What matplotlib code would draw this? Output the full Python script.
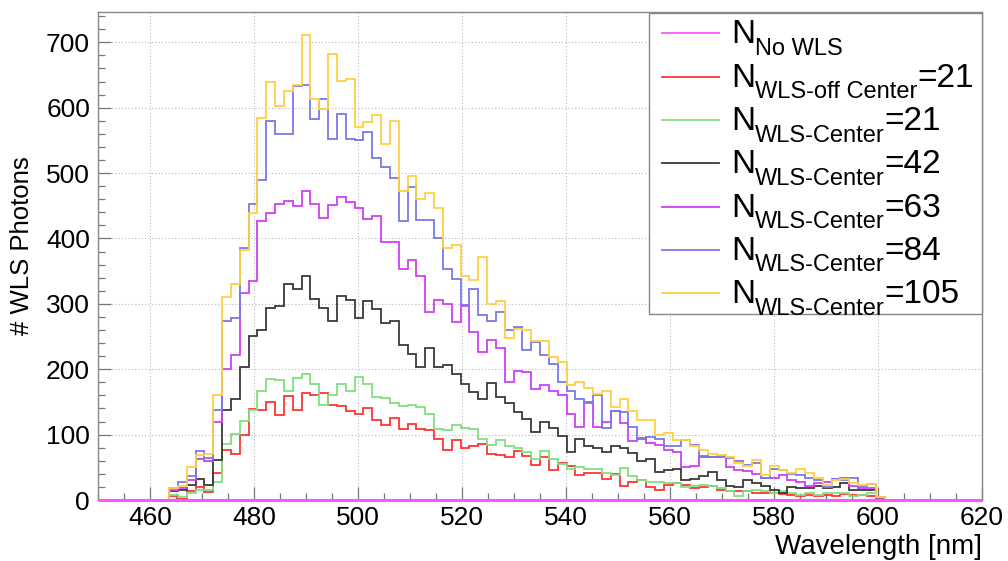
import numpy as np
import matplotlib
matplotlib.use('Agg')
import matplotlib.pyplot as plt
from matplotlib.lines import Line2D
from matplotlib.patches import Rectangle
from matplotlib.ticker import MultipleLocator

plt.rcParams['font.family'] = ['Liberation Sans', 'DejaVu Sans']

W, H = 1008, 561

# 100 bins, 450 - 620 nm
bin_edges = np.linspace(450, 620, 101)

n_no_wls = [
    0, 0, 0, 0, 0, 0, 0, 0, 0, 0,
    0, 0, 0, 0, 0, 0, 0, 0, 0, 0,
    0, 0, 0, 0, 0, 0, 0, 0, 0, 0,
    0, 0, 0, 0, 0, 0, 0, 0, 0, 0,
    0, 0, 0, 0, 0, 0, 0, 0, 0, 0,
    0, 0, 0, 0, 0, 0, 0, 0, 0, 0,
    0, 0, 0, 0, 0, 0, 0, 0, 0, 0,
    0, 0, 0, 0, 0, 0, 0, 0, 0, 0,
    0, 0, 0, 0, 0, 0, 0, 0, 0, 0,
    0, 0, 0, 0, 0, 0, 0, 0, 0, 0,
]
n_off_21 = [
    0, 0, 0, 0, 0, 0, 0, 0, 6, 2,
    13, 20, 12, 42, 77, 70, 99, 139, 138, 150,
    130, 159, 138, 163, 160, 163, 146, 143, 136, 131,
    140, 122, 115, 126, 108, 116, 108, 107, 93, 77,
    92, 79, 82, 85, 70, 69, 65, 75, 67, 53,
    65, 46, 56, 52, 38, 41, 42, 32, 40, 22,
    28, 30, 20, 16, 23, 26, 23, 18, 20, 21,
    15, 13, 13, 14, 11, 10, 10, 9, 8, 6,
    7, 6, 8, 6, 9, 8, 8, 6, 2, 0,
    0, 0, 0, 0, 0, 0, 0, 0, 0, 0,
]
n_center_21 = [
    0, 0, 0, 0, 0, 0, 0, 0, 8, 4,
    10, 15, 15, 27, 86, 101, 121, 138, 166, 185,
    183, 166, 187, 192, 177, 145, 160, 178, 167, 188,
    177, 157, 156, 148, 144, 145, 142, 132, 108, 107,
    114, 110, 108, 93, 84, 91, 82, 80, 73, 63,
    75, 63, 55, 47, 50, 47, 48, 41, 38, 49,
    37, 31, 28, 28, 26, 26, 20, 21, 23, 21,
    18, 13, 6, 13, 16, 13, 11, 13, 10, 8,
    10, 8, 10, 11, 11, 6, 8, 10, 2, 0,
    0, 0, 0, 0, 0, 0, 0, 0, 0, 0,
]
n_center_42 = [
    0, 0, 0, 0, 0, 0, 0, 0, 13, 15,
    23, 32, 23, 61, 138, 154, 203, 251, 260, 293,
    296, 330, 323, 343, 307, 293, 273, 312, 306, 278,
    305, 292, 270, 273, 237, 223, 204, 233, 203, 206,
    193, 178, 165, 154, 179, 157, 148, 134, 124, 104,
    120, 110, 98, 73, 93, 83, 79, 74, 82, 79,
    72, 60, 62, 43, 46, 48, 30, 32, 36, 43,
    31, 21, 20, 31, 26, 21, 15, 11, 20, 19,
    19, 21, 19, 20, 26, 16, 16, 16, 3, 0,
    0, 0, 0, 0, 0, 0, 0, 0, 0, 0,
]
n_center_63 = [
    0, 0, 0, 0, 0, 0, 0, 0, 15, 18,
    30, 62, 60, 120, 201, 221, 316, 335, 427, 439,
    452, 457, 449, 473, 452, 431, 451, 463, 456, 446,
    430, 434, 394, 394, 354, 367, 342, 287, 306, 300,
    272, 298, 257, 227, 245, 232, 181, 198, 195, 170,
    176, 167, 160, 131, 112, 150, 112, 119, 136, 118,
    90, 94, 87, 84, 76, 74, 50, 52, 65, 65,
    67, 50, 46, 45, 40, 33, 33, 38, 31, 27,
    21, 26, 28, 32, 33, 21, 18, 18, 3, 0,
    0, 0, 0, 0, 0, 0, 0, 0, 0, 0,
]
n_center_84 = [
    0, 0, 0, 0, 0, 0, 0, 0, 18, 27,
    36, 75, 64, 138, 274, 278, 386, 453, 490, 579,
    560, 559, 633, 634, 583, 613, 552, 591, 552, 551,
    563, 523, 510, 492, 426, 478, 428, 428, 400, 353,
    338, 296, 323, 283, 273, 288, 260, 264, 229, 242,
    222, 208, 181, 167, 154, 149, 160, 110, 136, 134,
    111, 95, 97, 94, 83, 82, 92, 84, 67, 66,
    66, 64, 60, 54, 56, 33, 48, 46, 39, 38,
    33, 31, 20, 32, 31, 34, 21, 24, 4, 0,
    0, 0, 0, 0, 0, 0, 0, 0, 0, 0,
]
n_center_105 = [
    0, 0, 0, 0, 0, 0, 0, 0, 18, 21,
    51, 69, 70, 160, 310, 331, 382, 439, 584, 639,
    602, 625, 634, 711, 613, 598, 682, 641, 644, 571,
    578, 589, 544, 579, 472, 495, 460, 469, 446, 385,
    390, 343, 337, 371, 300, 305, 247, 261, 260, 243,
    243, 218, 211, 176, 180, 172, 162, 167, 142, 155,
    136, 123, 123, 99, 102, 92, 91, 83, 76, 71,
    69, 66, 57, 52, 61, 38, 52, 46, 42, 47,
    41, 33, 23, 31, 32, 26, 23, 24, 4, 0,
    0, 0, 0, 0, 0, 0, 0, 0, 0, 0,
]

legend_sub = ['No WLS', 'WLS\u2010off Center', 'WLS\u2010Center', 'WLS\u2010Center',
              'WLS\u2010Center', 'WLS\u2010Center', 'WLS\u2010Center']
legend_suffix = ['', '=21', '=21', '=42', '=63', '=84', '=105']

c_no_wls = '#ff55ff'
c_off_21 = '#ff3535'
c_c21 = '#80e080'
c_c42 = '#3a3a3a'
c_c63 = '#d040f5'
c_c84 = '#7878e8'
c_c105 = '#ffd040'

fig = plt.figure(figsize=(W / 100, H / 100), dpi=100)
ax = fig.add_axes([98.4 / W, 1 - 500 / H, (981.7 - 98.4) / W, (500 - 12.2) / H])


def fx(px):
    return px / W


def fy(py):
    return 1 - py / H


hists = [
    (n_off_21, c_off_21),
    (n_center_21, c_c21),
    (n_center_42, c_c42),
    (n_center_63, c_c63),
    (n_center_84, c_c84),
    (n_center_105, c_c105),
]
for vals, col in hists:
    ax.stairs(vals, bin_edges, color=col, lw=1.3, zorder=2)
ax.stairs(n_no_wls, bin_edges, color=c_no_wls, lw=2.2, zorder=4, clip_on=False)

ax.set_xlim(450, 620)
ax.set_ylim(0, 746)
ax.xaxis.set_major_locator(MultipleLocator(20))
ax.xaxis.set_minor_locator(MultipleLocator(5))
ax.yaxis.set_major_locator(MultipleLocator(100))
ax.yaxis.set_minor_locator(MultipleLocator(20))
ax.tick_params(which='both', direction='in', top=False, right=False,
               color='#777777', labelsize=19)
ax.tick_params(which='major', length=9.5, width=0.9)
ax.tick_params(which='minor', length=5, width=0.9)
ax.tick_params(axis='x', pad=4)
ax.tick_params(axis='y', pad=6)
ax.grid(True, which='major', ls=(0, (1, 2)), color='#b8b8b8', lw=0.8)
for sp in ax.spines.values():
    sp.set_color('#888888')
    sp.set_linewidth(1.0)

ax.set_xlabel('Wavelength [nm]', fontsize=20, loc='right')
ax.xaxis.set_label_coords(1.0, (500 - 547) / 487.8)
ax.xaxis.label.set_va('center')
ax.set_ylabel('# WLS Photons', fontsize=18.5)
ax.yaxis.set_label_coords((22 - 98.4) / 883.3, (500 - 246) / 487.8)
ax.yaxis.label.set_va('center')

# legend box (ROOT TLegend style)
fig.add_artist(Rectangle((fx(649), fy(314)), fx(981.7) - fx(649), fy(12.7) - fy(314),
                         transform=fig.transFigure, facecolor='white',
                         edgecolor='#888888', lw=1.0, zorder=5))

leg_colors = [c_no_wls, c_off_21, c_c21, c_c42, c_c63, c_c84, c_c105]
renderer = fig.canvas.get_renderer()
for i, (sub, suf, col) in enumerate(zip(legend_sub, legend_suffix, leg_colors)):
    base = 43.3 + 43.3 * i
    fig.add_artist(Line2D([fx(662), fx(719)], [fy(base - 10)] * 2,
                          transform=fig.transFigure, color=col, lw=1.3, zorder=6))
    t1 = fig.text(fx(731), fy(base), 'N', fontsize=24, va='baseline', ha='left', zorder=6)
    x1 = t1.get_window_extent(renderer).x1
    t2 = fig.text(x1 / W, fy(base + 11.7), sub, fontsize=17, va='baseline',
                  ha='left', zorder=6)
    if suf:
        x2 = t2.get_window_extent(renderer).x1
        fig.text(x2 / W, fy(base), suf, fontsize=24, va='baseline', ha='left', zorder=6)

fig.savefig('out.png', dpi=100)
